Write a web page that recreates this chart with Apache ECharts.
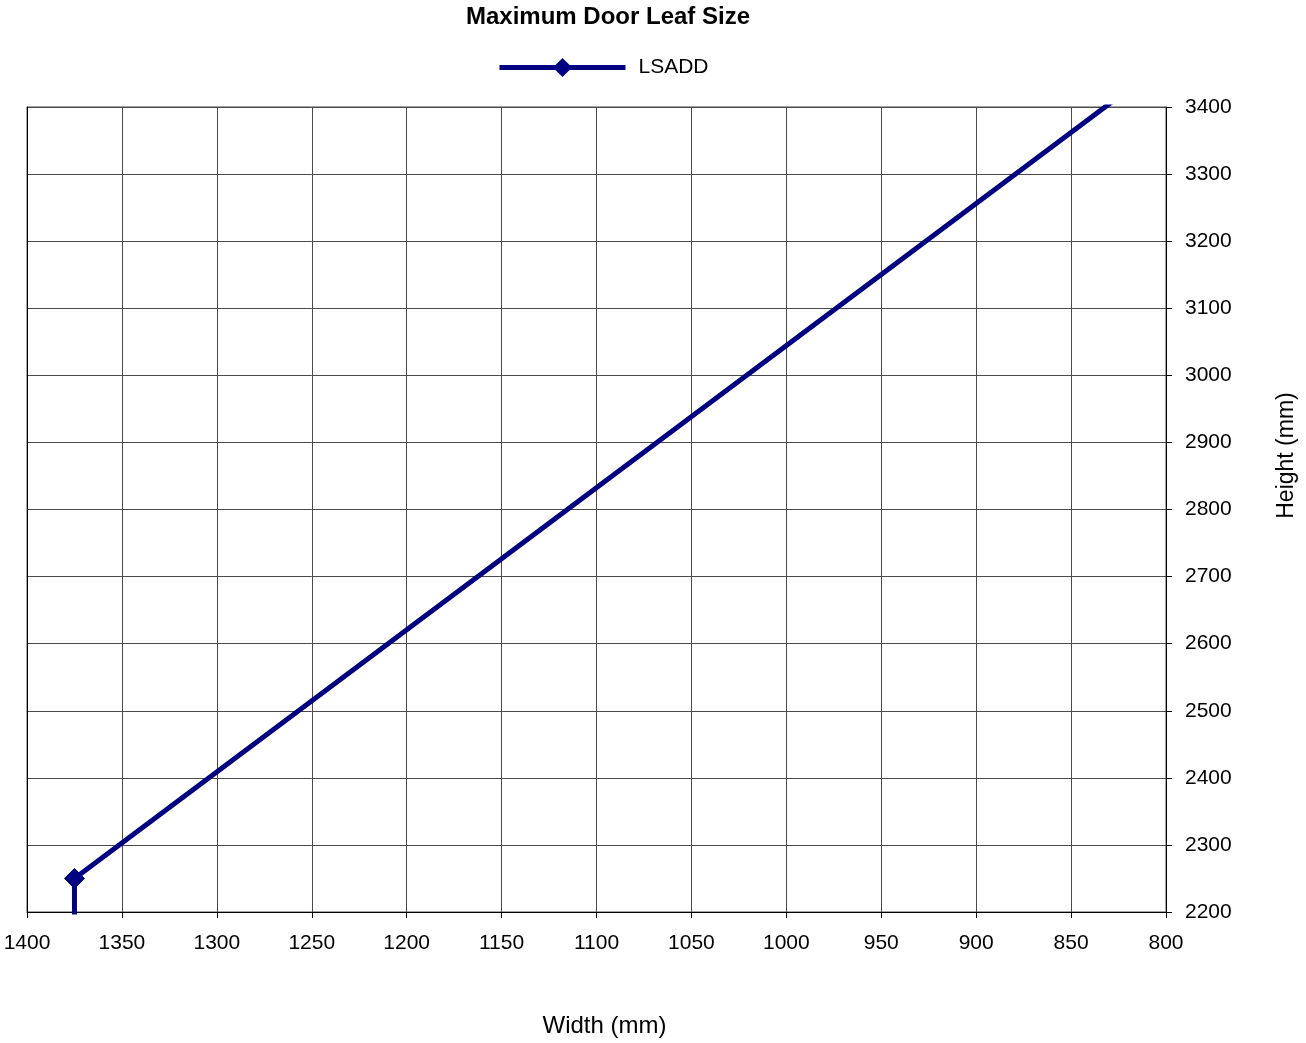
<!DOCTYPE html>
<html>
<head>
<meta charset="utf-8">
<title>Maximum Door Leaf Size</title>
<script src="https://cdn.jsdelivr.net/npm/echarts@6/dist/echarts.min.js"></script>
<style>
  html, body { margin: 0; padding: 0; background: #fff; overflow: hidden; }
  #chart { width: 1306px; height: 1043px; }
</style>
</head>
<body>
<div id="chart"></div>
<script>
// Door leaf size limit curve (width vs. height, mm)
const seriesName = 'LSADD';
const widths = [1375, 1375, 800];
const heights = [2000, 2250, 3468];

// Axis ranges and steps
const widthRange = { min: 800, max: 1400, step: 50 };
const heightRange = { min: 2200, max: 3400, step: 100 };

const FONT = '"Liberation Sans", Arial, sans-serif';
const NAVY = '#000080';
const GRID_GREY = '#4a4a4a';

const points = widths.map((w, i) => [w, heights[i]]);
const plain = v => String(v);

const chart = echarts.init(document.getElementById('chart'), null, { renderer: 'canvas' });

chart.setOption({
  animation: false,
  backgroundColor: '#ffffff',
  textStyle: { fontFamily: FONT, color: '#000' },
  title: {
    text: 'Maximum Door Leaf Size',
    left: 603,
    textAlign: 'center',
    top: 0,
    textStyle: { fontFamily: FONT, fontWeight: 'bold', fontSize: 24, color: '#000' }
  },
  legend: {
    data: [seriesName],
    left: 492,
    top: 52,
    itemWidth: 126,
    itemHeight: 24,
    itemGap: 0,
    lineStyle: { width: 5 },
    textStyle: { fontFamily: FONT, fontSize: 21, color: '#000', padding: [16, 0, 0, 8] }
  },
  grid: {
    left: 27,
    right: 134,
    top: 107,
    bottom: 127,
    show: true,
    borderColor: GRID_GREY,
    borderWidth: 1,
    containLabel: false
  },
  xAxis: {
    type: 'value',
    inverse: true,
    min: widthRange.min,
    max: widthRange.max,
    interval: widthRange.step,
    name: 'Width (mm)',
    nameLocation: 'middle',
    nameGap: 102,
    nameTextStyle: { fontFamily: FONT, fontSize: 24, color: '#000', padding: [0, 0, 0, 16] },
    axisLine: { show: true, onZero: false, lineStyle: { color: '#000', width: 1 } },
    axisTick: { show: true, length: 6, lineStyle: { color: '#000' } },
    axisLabel: { fontFamily: FONT, fontSize: 21, color: '#000', margin: 21, formatter: plain },
    splitLine: { show: true, lineStyle: { color: GRID_GREY, width: 1 } }
  },
  yAxis: [
    {
      type: 'value',
      position: 'right',
      min: heightRange.min,
      max: heightRange.max,
      interval: heightRange.step,
      name: 'Height (mm)',
      nameLocation: 'middle',
      nameRotate: 90,
      nameGap: 109,
      nameTextStyle: { fontFamily: FONT, fontSize: 23, color: '#000', padding: [0, 0, 0, 108] },
      axisLine: { show: true, onZero: false, lineStyle: { color: '#000', width: 1 } },
      axisTick: { show: true, length: 6, lineStyle: { color: '#000' } },
      axisLabel: { fontFamily: FONT, fontSize: 21, color: '#000', margin: 19, padding: [5, 0, 0, 0], formatter: plain },
      splitLine: { show: true, lineStyle: { color: GRID_GREY, width: 1 } }
    },
    {
      // left frame edge
      type: 'value',
      position: 'left',
      min: heightRange.min,
      max: heightRange.max,
      interval: heightRange.step,
      axisLine: { show: true, onZero: false, lineStyle: { color: '#000', width: 1 } },
      axisTick: { show: false },
      axisLabel: { show: false },
      splitLine: { show: false }
    }
  ],
  series: [
    {
      name: seriesName,
      type: 'line',
      yAxisIndex: 0,
      data: points,
      clip: true,
      symbol: 'diamond',
      symbolSize: 20,
      showAllSymbol: true,
      lineStyle: { color: NAVY, width: 5 },
      itemStyle: { color: NAVY, borderColor: NAVY },
      emphasis: { disabled: true }
    }
  ]
});
</script>
</body>
</html>
